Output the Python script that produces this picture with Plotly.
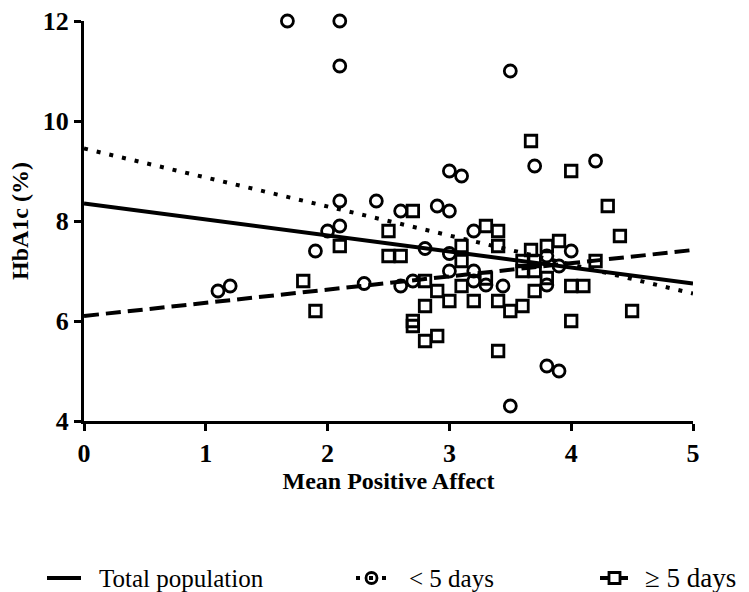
import plotly.graph_objects as go

# ---------------- data ----------------
lt5_x = [1.67, 2.1, 2.1, 3.5, 1.1, 1.2, 2.1, 2.4, 2.1, 2.0, 1.9, 3.0, 3.1, 2.6, 2.9, 3.0,
         2.8, 3.0, 3.2, 3.0, 3.2, 3.2, 3.3, 3.44, 2.3, 2.6, 2.7, 3.7, 4.2, 4.0, 3.8, 3.9,
         3.8, 3.8, 3.9, 3.5]
lt5_y = [12.0, 12.0, 11.1, 11.0, 6.6, 6.7, 8.4, 8.4, 7.9, 7.8, 7.4, 9.0, 8.9, 8.2, 8.3, 8.2,
         7.45, 7.35, 7.8, 7.0, 7.0, 6.8, 6.72, 6.7, 6.75, 6.7, 6.8, 9.1, 9.2, 7.4, 7.3, 7.1,
         6.72, 5.1, 5.0, 4.3]

ge5_x = [2.1, 2.5, 2.5, 2.6, 2.7, 3.1, 3.3, 3.1, 1.8, 1.9, 2.8, 2.9, 3.0, 3.2, 3.4, 2.8,
         2.7, 2.7, 2.8, 2.9, 3.4, 3.1, 3.3, 3.67, 4.0, 4.3, 4.4, 3.4, 3.4, 3.67, 3.8, 3.9,
         3.6, 3.7, 3.6, 3.7, 3.8, 4.2, 4.0, 4.1, 3.7, 3.5, 3.6, 4.0, 4.5]
ge5_y = [7.5, 7.8, 7.3, 7.3, 8.2, 7.5, 7.9, 7.2, 6.8, 6.2, 6.8, 6.6, 6.4, 6.4, 6.4, 6.3,
         6.0, 5.9, 5.6, 5.7, 5.4, 6.7, 6.85, 9.6, 9.0, 8.3, 7.7, 7.8, 7.5, 7.42, 7.5, 7.6,
         7.2, 7.2, 7.0, 7.0, 6.86, 7.2, 6.7, 6.7, 6.6, 6.2, 6.3, 6.0, 6.2]

fit_x = [0, 5]
total_fit = [8.35, 6.75]
lt5_fit = [9.45, 6.55]
ge5_fit = [6.1, 7.42]

x_ticks = [0, 1, 2, 3, 4, 5]
y_ticks = [4, 6, 8, 10, 12]

legend_labels = ["Total population", "< 5 days", "\u2265 5 days"]

# ---------------- figure ----------------
FONT = "Liberation Serif"
fig = go.Figure()

fig.add_trace(go.Scatter(x=fit_x, y=total_fit, mode="lines",
                         line=dict(color="black", width=4), showlegend=False))
fig.add_trace(go.Scatter(x=fit_x, y=lt5_fit, mode="lines",
                         line=dict(color="black", width=4, dash="4px,9px"), showlegend=False))
fig.add_trace(go.Scatter(x=fit_x, y=ge5_fit, mode="lines",
                         line=dict(color="black", width=4, dash="15px,7px"), showlegend=False))

fig.add_trace(go.Scatter(x=lt5_x, y=lt5_y, mode="markers", cliponaxis=False,
                         marker=dict(symbol="circle-open", size=12, color="black",
                                     line=dict(width=2.8, color="black")),
                         showlegend=False))
fig.add_trace(go.Scatter(x=ge5_x, y=ge5_y, mode="markers", cliponaxis=False,
                         marker=dict(symbol="square-open", size=11.5, color="black",
                                     line=dict(width=2.8, color="black")),
                         showlegend=False))

# ---------------- manual legend ----------------
L, W, T, H = 84, 609, 21, 400
def px(x):
    return (x - L) / W
def py(y):
    return (T + H - y) / H

ly = 578
shapes = []
annotations = []
# Total population
shapes.append(dict(type="line", xref="paper", yref="paper", x0=px(47), x1=px(81),
                   y0=py(ly), y1=py(ly), line=dict(color="black", width=4)))
# < 5 days
shapes.append(dict(type="line", xref="paper", yref="paper", x0=px(356), x1=px(387),
                   y0=py(ly), y1=py(ly), line=dict(color="black", width=4, dash="4px,9px")))
shapes.append(dict(type="circle", xref="paper", yref="paper", x0=px(366), x1=px(377),
                   y0=py(ly + 5.5), y1=py(ly - 5.5), line=dict(color="black", width=2.8)))
# >= 5 days
shapes.append(dict(type="line", xref="paper", yref="paper", x0=px(600), x1=px(628),
                   y0=py(ly), y1=py(ly), line=dict(color="black", width=4)))
shapes.append(dict(type="rect", xref="paper", yref="paper", x0=px(609), x1=px(620),
                   y0=py(ly + 5.5), y1=py(ly - 5.5), fillcolor="white",
                   line=dict(color="black", width=2.8)))

for xpos, txt, fs in zip([97, 407, 643], legend_labels, [25, 25, 27]):
    annotations.append(dict(x=px(xpos), y=py(ly), xref="paper", yref="paper",
                            xanchor="left", yanchor="middle", text=txt, showarrow=False,
                            font=dict(family=FONT, size=fs, color="black")))

fig.update_layout(
    width=749, height=592,
    margin=dict(l=L, r=749 - L - W, t=T, b=592 - T - H, autoexpand=False),
    paper_bgcolor="white", plot_bgcolor="white",
    showlegend=False,
    shapes=shapes, annotations=annotations,
    font=dict(family=FONT, color="black"),
)

fig.update_xaxes(range=[0, 5], tickvals=x_ticks, ticktext=[str(v) for v in x_ticks],
                 automargin=False,
                 showgrid=False, zeroline=False, showline=True, linecolor="black", linewidth=3,
                 ticks="outside", ticklen=7, tickwidth=3, tickcolor="black",
                 tickfont=dict(family=FONT, size=26, color="black", weight="bold"),
                 title=dict(text="Mean Positive Affect", standoff=1,
                            font=dict(family=FONT, size=24, color="black", weight="bold")))
fig.update_yaxes(range=[4, 12], tickvals=y_ticks, ticktext=[str(v) for v in y_ticks],
                 automargin=False,
                 showgrid=False, zeroline=False, showline=True, linecolor="black", linewidth=3,
                 ticks="outside", ticklen=7, tickwidth=3, tickcolor="black",
                 tickfont=dict(family=FONT, size=26, color="black", weight="bold"),
                 title=dict(text="HbA1c (%)", standoff=8,
                            font=dict(family=FONT, size=24, color="black", weight="bold")))

fig.write_html("out.html")
